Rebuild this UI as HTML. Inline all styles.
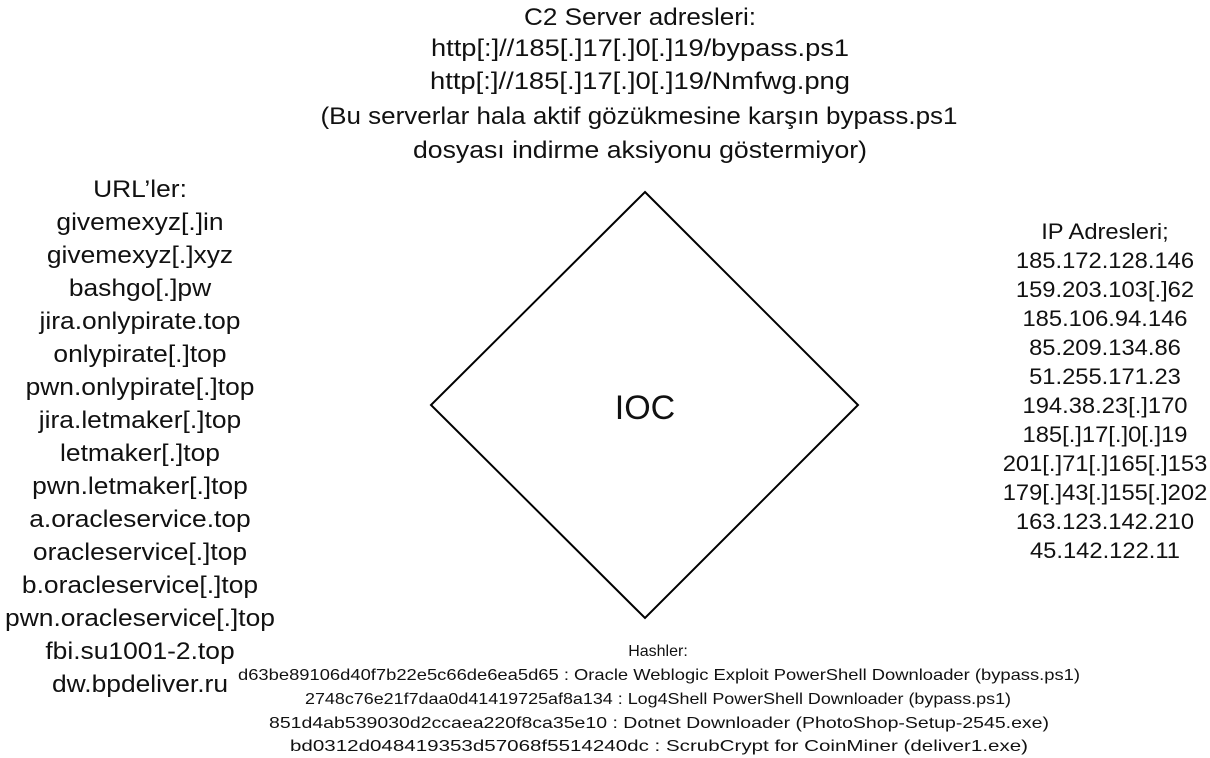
<!DOCTYPE html>
<html><head><meta charset="utf-8"><style>
html,body{margin:0;padding:0;background:#fff;}
svg{display:block;}
text{font-family:"Liberation Sans",sans-serif;fill:#111;}
</style></head><body>
<svg width="1210" height="758" viewBox="0 0 1210 758" xmlns="http://www.w3.org/2000/svg">
<polygon points="645,192 858,405 645,618 431,405" fill="none" stroke="#000" stroke-width="2"/>
<text x="645" y="419" font-size="34" text-anchor="middle">IOC</text>
<g font-size="24" text-anchor="middle">
<text x="640" y="25" textLength="232" lengthAdjust="spacingAndGlyphs">C2 Server adresleri:</text>
<text x="640" y="56" textLength="418" lengthAdjust="spacingAndGlyphs">http[:]//185[.]17[.]0[.]19/bypass.ps1</text>
<text x="640" y="89" textLength="420" lengthAdjust="spacingAndGlyphs">http[:]//185[.]17[.]0[.]19/Nmfwg.png</text>
<text x="639" y="124" textLength="637" lengthAdjust="spacingAndGlyphs">(Bu serverlar hala aktif gözükmesine karşın bypass.ps1</text>
<text x="640" y="158" textLength="454" lengthAdjust="spacingAndGlyphs">dosyası indirme aksiyonu göstermiyor)</text>
</g>
<g font-size="24" text-anchor="middle" transform="translate(140,0) scale(1.1,1) translate(-140,0)">
<text x="140" y="197">URL’ler:</text>
<text x="140" y="230">givemexyz[.]in</text>
<text x="140" y="263">givemexyz[.]xyz</text>
<text x="140" y="296">bashgo[.]pw</text>
<text x="140" y="329">jira.onlypirate.top</text>
<text x="140" y="362">onlypirate[.]top</text>
<text x="140" y="395">pwn.onlypirate[.]top</text>
<text x="140" y="428">jira.letmaker[.]top</text>
<text x="140" y="461">letmaker[.]top</text>
<text x="140" y="494">pwn.letmaker[.]top</text>
<text x="140" y="527">a.oracleservice.top</text>
<text x="140" y="560">oracleservice[.]top</text>
<text x="140" y="593">b.oracleservice[.]top</text>
<text x="140" y="626">pwn.oracleservice[.]top</text>
<text x="140" y="659">fbi.su1001-2.top</text>
<text x="140" y="692">dw.bpdeliver.ru</text>
</g>
<g font-size="22" text-anchor="middle" transform="translate(1105,0) scale(1.08,1) translate(-1105,0)">
<text x="1105" y="239">IP Adresleri;</text>
<text x="1105" y="268">185.172.128.146</text>
<text x="1105" y="297">159.203.103[.]62</text>
<text x="1105" y="326">185.106.94.146</text>
<text x="1105" y="355">85.209.134.86</text>
<text x="1105" y="384">51.255.171.23</text>
<text x="1105" y="413">194.38.23[.]170</text>
<text x="1105" y="442">185[.]17[.]0[.]19</text>
<text x="1105" y="471">201[.]71[.]165[.]153</text>
<text x="1105" y="500">179[.]43[.]155[.]202</text>
<text x="1105" y="529">163.123.142.210</text>
<text x="1105" y="558">45.142.122.11</text>
</g>
<g font-size="16" text-anchor="middle">
<text x="658" y="656">Hashler:</text>
<text x="659" y="680" textLength="842" lengthAdjust="spacingAndGlyphs">d63be89106d40f7b22e5c66de6ea5d65 : Oracle Weblogic Exploit PowerShell Downloader (bypass.ps1)</text>
<text x="658" y="704" textLength="706" lengthAdjust="spacingAndGlyphs">2748c76e21f7daa0d41419725af8a134 : Log4Shell PowerShell Downloader (bypass.ps1)</text>
<text x="659" y="728" textLength="780" lengthAdjust="spacingAndGlyphs">851d4ab539030d2ccaea220f8ca35e10 : Dotnet Downloader (PhotoShop-Setup-2545.exe)</text>
<text x="659" y="751" textLength="738" lengthAdjust="spacingAndGlyphs">bd0312d048419353d57068f5514240dc : ScrubCrypt for CoinMiner (deliver1.exe)</text>
</g>
</svg>
</body></html>
